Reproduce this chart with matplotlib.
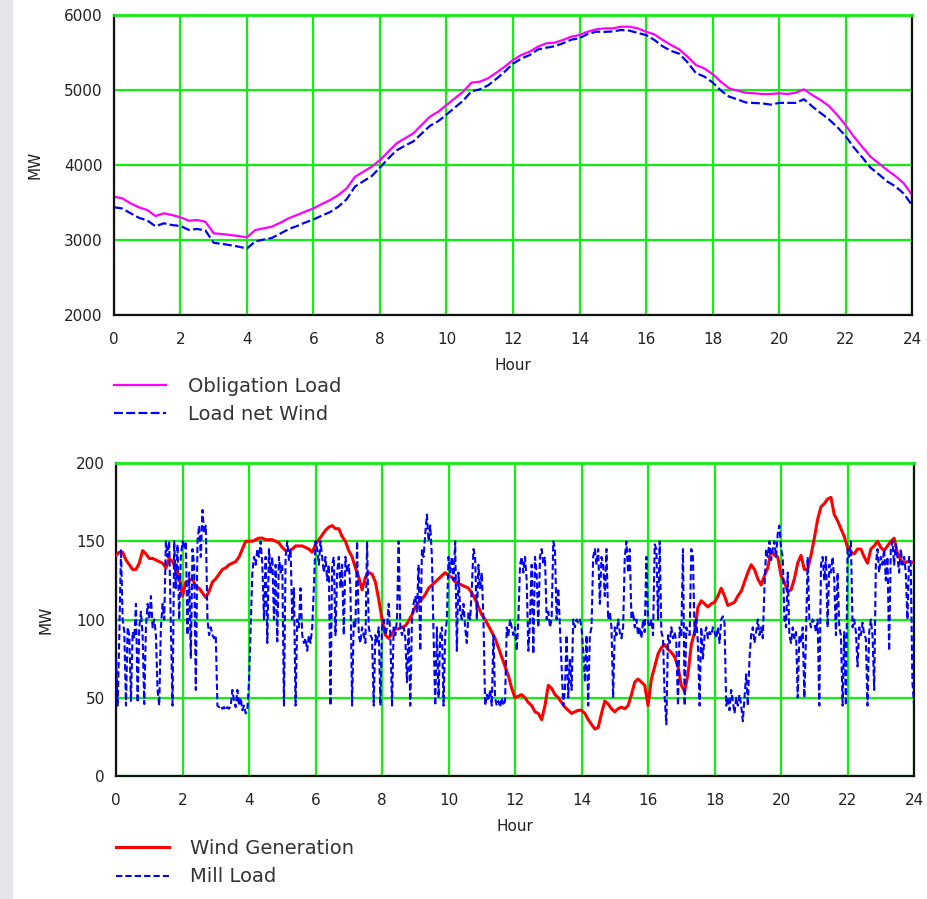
import matplotlib
matplotlib.use('Agg')

import matplotlib.pyplot as plt
import numpy as np

# top panel, quarter-hour samples
load_hours = np.arange(0, 24.001, 0.25)
obligation_load = [
    3578, 3556, 3489, 3436, 3400, 3320, 3356, 3333, 3302, 3258, 3267, 3244,
    3089, 3080, 3067, 3053, 3036, 3133, 3156, 3178, 3231, 3289, 3333, 3378,
    3422, 3480, 3533, 3600, 3689, 3844, 3911, 3978, 4067, 4178, 4289, 4356,
    4422, 4533, 4644, 4711, 4800, 4889, 4978, 5098, 5111, 5156, 5231, 5311,
    5400, 5467, 5511, 5578, 5622, 5631, 5667, 5711, 5733, 5778, 5809, 5822,
    5822, 5844, 5844, 5822, 5778, 5742, 5667, 5600, 5542, 5444, 5333, 5289,
    5213, 5111, 5022, 4991, 4964, 4956, 4947, 4947, 4956, 4947, 4964, 5009,
    4933, 4867, 4787, 4667, 4533, 4378, 4244, 4111, 4022, 3933, 3853, 3756,
    3600]
load_net_wind = [
    3437, 3420, 3357, 3296, 3261, 3183, 3223, 3199, 3187, 3135, 3147, 3128,
    2963, 2948, 2931, 2911, 2886, 2982, 3005, 3028, 3085, 3145, 3186, 3233,
    3274, 3325, 3373, 3445, 3545, 3714, 3784, 3852, 3967, 4088, 4195, 4258,
    4314, 4418, 4522, 4584, 4672, 4766, 4857, 4983, 5008, 5062, 5149, 5244,
    5350, 5419, 5466, 5540, 5564, 5583, 5623, 5671, 5691, 5747, 5778, 5775,
    5781, 5800, 5792, 5761, 5733, 5668, 5583, 5522, 5484, 5369, 5225, 5180,
    5102, 4994, 4912, 4875, 4834, 4827, 4822, 4805, 4828, 4829, 4828, 4877,
    4781, 4694, 4609, 4507, 4387, 4233, 4104, 3965, 3876, 3782, 3715, 3619,
    3464]

# bottom panel
wind_hours = np.arange(0, 24.001, 0.1)
wind_generation = [
    141, 143, 143, 138, 135, 132, 132, 136, 144, 142,
    139, 139, 138, 137, 136, 133, 139, 137, 132, 128,
    115, 124, 125, 126, 121, 120, 117, 114, 118, 124,
    126, 129, 132, 133, 135, 136, 137, 140, 145, 150,
    150, 150, 151, 152, 152, 151, 151, 151, 150, 149,
    146, 144, 144, 145, 147, 147, 147, 146, 145, 143,
    148, 151, 154, 157, 159, 160, 158, 158, 153, 150,
    144, 140, 133, 127, 119, 127, 130, 129, 124, 113,
    100, 90, 88, 91, 94, 94, 95, 96, 99, 103,
    108, 111, 113, 116, 120, 122, 124, 126, 128, 130,
    128, 127, 124, 123, 122, 121, 120, 117, 113, 108,
    103, 100, 96, 92, 88, 82, 76, 70, 64, 56,
    50, 51, 52, 50, 47, 45, 41, 40, 36, 45,
    58, 56, 52, 50, 47, 44, 42, 40, 41, 42,
    42, 40, 36, 33, 30, 31, 40, 48, 46, 43,
    41, 43, 44, 43, 45, 52, 60, 62, 60, 58,
    45, 62, 70, 78, 82, 84, 81, 79, 76, 70,
    58, 54, 65, 84, 92, 108, 112, 110, 108, 110,
    111, 115, 120, 115, 109, 110, 111, 115, 118, 124,
    130, 135, 132, 126, 122, 128, 133, 144, 141, 140,
    128, 124, 118, 119, 126, 136, 141, 132, 132, 141,
    152, 164, 172, 174, 177, 178, 167, 163, 158, 153,
    146, 143, 142, 145, 145, 140, 136, 145, 147, 150,
    146, 144, 147, 150, 152, 142, 138, 136, 137, 137,
    136]

mill_hours = np.arange(0, 24.001, 0.05)
mill_load = [
    75, 45, 90, 145, 100, 92, 45, 95, 90, 48, 92, 88, 110, 47, 95, 105, 90, 46, 95, 110,
    100, 115, 95, 100, 90, 55, 45, 95, 110, 100, 150, 140, 150, 95, 45, 150, 120, 148, 100, 140,
    150, 145, 150, 90, 130, 75, 145, 135, 55, 150, 160, 140, 170, 155, 160, 100, 90, 95, 90, 88,
    90, 45, 44, 45, 43, 44, 42, 44, 43, 45, 55, 48, 44, 55, 45, 50, 42, 45, 40, 42,
    60, 95, 130, 140, 135, 145, 140, 150, 135, 100, 140, 85, 145, 130, 140, 100, 135, 86, 140, 130,
    135, 45, 140, 150, 138, 145, 100, 120, 45, 100, 95, 120, 90, 85, 88, 80, 90, 85, 95, 120,
    150, 145, 135, 150, 140, 130, 140, 125, 135, 45, 135, 140, 90, 130, 140, 120, 135, 90, 140, 130,
    135, 120, 45, 100, 95, 150, 90, 85, 95, 90, 85, 150, 95, 90, 88, 45, 90, 85, 95, 45,
    95, 100, 90, 95, 110, 90, 45, 95, 90, 100, 150, 95, 90, 95, 88, 60, 95, 45, 100, 110,
    115, 105, 135, 80, 145, 140, 155, 167, 150, 160, 140, 90, 45, 95, 50, 90, 95, 45, 90, 100,
    140, 130, 140, 125, 150, 80, 130, 105, 100, 110, 95, 85, 105, 100, 120, 145, 140, 100, 135, 120,
    130, 100, 45, 52, 48, 55, 45, 90, 50, 45, 48, 44, 50, 45, 48, 95, 90, 100, 95, 90,
    95, 80, 100, 135, 140, 130, 140, 125, 80, 100, 135, 78, 140, 130, 95, 140, 145, 135, 140, 100,
    105, 95, 100, 150, 145, 100, 120, 95, 70, 45, 55, 90, 50, 75, 55, 100, 95, 100, 98, 100,
    95, 80, 60, 90, 45, 90, 95, 140, 145, 135, 145, 110, 140, 135, 115, 145, 100, 105, 95, 50,
    95, 90, 100, 92, 88, 95, 140, 150, 130, 145, 100, 105, 95, 100, 90, 95, 88, 100, 92, 140,
    98, 95, 100, 90, 148, 145, 100, 150, 92, 88, 50, 33, 90, 85, 95, 88, 92, 85, 45, 95,
    90, 145, 45, 95, 92, 90, 145, 140, 90, 100, 85, 45, 95, 75, 90, 95, 88, 92, 90, 95,
    92, 88, 95, 85, 100, 102, 98, 45, 50, 42, 55, 48, 40, 50, 45, 52, 45, 35, 50, 65,
    45, 75, 90, 95, 85, 92, 100, 90, 95, 88, 120, 145, 140, 150, 138, 145, 150, 140, 155, 160,
    145, 140, 100, 95, 130, 90, 85, 95, 88, 92, 50, 90, 85, 95, 50, 90, 140, 100, 95, 100,
    98, 92, 100, 45, 135, 140, 125, 140, 95, 135, 130, 140, 125, 90, 130, 95, 90, 45, 92, 45,
    145, 140, 150, 95, 100, 92, 70, 95, 90, 98, 90, 88, 45, 92, 100, 90, 55, 135, 145, 130,
    140, 135, 145, 125, 140, 80, 145, 150, 135, 148, 140, 130, 145, 135, 140, 130, 100, 140, 135, 60,
    45]

hour_ticks = list(range(0, 25, 2))

GREEN = '#11ee11'
TEXT = '#222222'
plt.rcParams['font.family'] = ['DejaVu Sans']


def style_axes(ax, ymin, ymax, ystep):
    ax.set_xlim(0, 24)
    ax.set_ylim(ymin, ymax)
    ax.set_xticks(hour_ticks)
    ax.set_yticks(np.arange(ymin, ymax + 1, ystep))
    ax.grid(True, color=GREEN, linewidth=1.6)
    ax.set_axisbelow(True)
    ax.tick_params(length=0, labelsize=11, colors=TEXT)
    ax.tick_params(axis='x', pad=12)
    ax.tick_params(axis='y', pad=8)
    for side in ['left', 'bottom', 'right']:
        ax.spines[side].set_color('#111111')
        ax.spines[side].set_linewidth(1.6)
    ax.spines['top'].set_color(GREEN)
    ax.spines['top'].set_linewidth(2.0)
    ax.set_xlabel('Hour', fontsize=11, color=TEXT, labelpad=8)
    ax.set_ylabel('MW', fontsize=11, color=TEXT, labelpad=16)


fig = plt.figure(figsize=(9.28, 8.99), dpi=100)
fig.patches.append(plt.Rectangle((0, 0), 12 / 928, 1, transform=fig.transFigure,
                                 color='#e6e6ea', zorder=0))

ax1 = fig.add_axes([0.1228, 0.6496, 0.86, 0.3337])
ax1.plot(load_hours, obligation_load, color='#ff00ff', lw=1.6, label='Obligation Load')
ax1.plot(load_hours, load_net_wind, color='#0000ff', lw=1.6, dashes=(4, 1.5),
         label='Load net Wind')
style_axes(ax1, 2000, 6000, 1000)
ax1.legend(loc='upper left', bbox_to_anchor=(0, -0.205), frameon=False, fontsize=14,
           handlelength=2.7, handletextpad=1.1, labelspacing=0.5, borderpad=0,
           borderaxespad=0, labelcolor='#333333')

ax2 = fig.add_axes([0.125, 0.1368, 0.86, 0.3482])
ax2.plot(wind_hours, wind_generation, color='#ff0000', lw=2.2, label='Wind Generation',
         zorder=3)
ax2.plot(mill_hours, mill_load, color='#0000ff', lw=1.5, dashes=(3, 1.5),
         label='Mill Load', zorder=4)
style_axes(ax2, 0, 200, 50)
ax2.legend(loc='upper left', bbox_to_anchor=(0, -0.2), frameon=False, fontsize=14,
           handlelength=2.7, handletextpad=1.1, labelspacing=0.5, borderpad=0,
           borderaxespad=0, labelcolor='#333333')

fig.savefig('out.png', dpi=100)
